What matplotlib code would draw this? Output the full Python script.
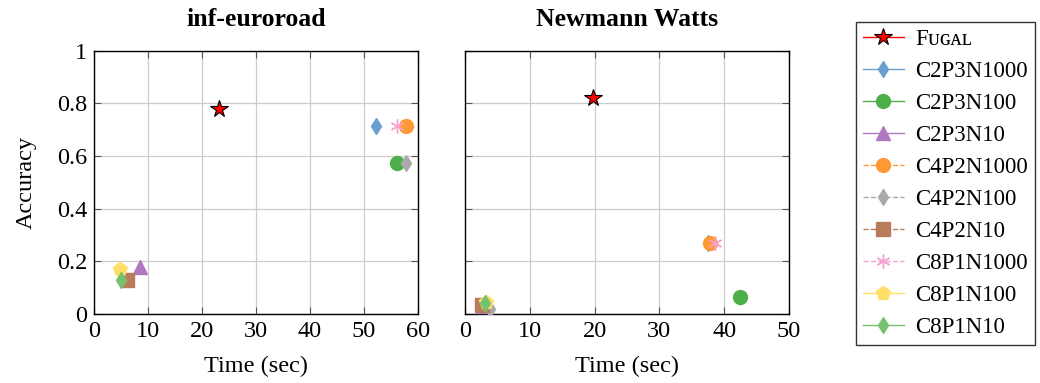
import matplotlib
matplotlib.use("Agg")
import matplotlib.pyplot as plt

plt.rcParams['font.family'] = ['Liberation Serif', 'DejaVu Serif']

# metodos y estilos
metodos = ["Fugal", "C2P3N1000", "C2P3N100", "C2P3N10", "C4P2N1000",
           "C4P2N100", "C4P2N10", "C8P1N1000", "C8P1N100", "C8P1N10"]
etiquetas = ["F\u1d1c\u0262\u1d00\u029f", "C2P3N1000", "C2P3N100", "C2P3N10", "C4P2N1000",
             "C4P2N100", "C4P2N10", "C8P1N1000", "C8P1N100", "C8P1N10"]
colores = ["#ff0000", "#6a9fd0", "#4daf4a", "#b07ac0", "#ff9933",
           "#aaaaaa", "#b87c5a", "#f7a1cf", "#ffe066", "#77c06f"]
marcadores = ["*", "d", "o", "^", "o", "d", "s", (6, 2, 0), "p", "d"]
tamanos = [13, 8.5, 10, 9.5, 10, 8.5, 10, 10, 10, 8.5]
lineas = ["-", "-", "-", "-", "--", "--", "--", "--", "-", "-"]

# inf-euroroad
t_euro = [23.2, 52.3, 56.2, 8.6, 57.8, 57.8, 6.1, 56.2, 4.8, 5.0]
acc_euro = [0.78, 0.712, 0.572, 0.18, 0.712, 0.572, 0.128, 0.712, 0.172, 0.128]

# Newmann Watts
t_nw = [19.7, 37.5, 42.4, 3.0, 37.8, 3.9, 2.6, 38.6, 3.3, 3.1]
acc_nw = [0.82, 0.268, 0.066, 0.03, 0.268, 0.02, 0.034, 0.268, 0.045, 0.042]

fig = plt.figure(figsize=(10.4, 3.83), dpi=100)
ax1 = fig.add_axes([0.0904, 0.180, 0.3115, 0.688])
ax2 = fig.add_axes([0.4471, 0.180, 0.3115, 0.688])


def graficar(ax, tiempos, accs, titulo, xmax, xticks):
    for i in range(len(metodos)):
        if i == 0:
            ax.plot(tiempos[i], accs[i], linestyle=lineas[i], color=colores[i],
                    marker=marcadores[i], markersize=tamanos[i], markeredgecolor="black",
                    markeredgewidth=0.8, linewidth=1, label=etiquetas[i], zorder=5)
        else:
            ax.plot(tiempos[i], accs[i], linestyle=lineas[i], color=colores[i],
                    marker=marcadores[i], markersize=tamanos[i], markeredgecolor=colores[i],
                    linewidth=1, label=etiquetas[i], zorder=3)
    ax.set_xlim(0, xmax)
    ax.set_ylim(0, 1)
    ax.set_xticks(xticks)
    ax.set_yticks([0, 0.2, 0.4, 0.6, 0.8, 1])
    ax.grid(True, color="#cccccc", linewidth=0.9)
    ax.set_axisbelow(True)
    ax.tick_params(direction="in", length=5, width=0.8, color="#555555",
                   top=True, right=True, labelsize=17.5, pad=5)
    ax.set_title(titulo, fontsize=18.5, fontweight="bold", pad=18)
    ax.set_xlabel("Time (sec)", fontsize=17.5, labelpad=10)
    for s in ax.spines.values():
        s.set_linewidth(1.0)


graficar(ax1, t_euro, acc_euro, "inf-euroroad", 60, [0, 10, 20, 30, 40, 50, 60])
graficar(ax2, t_nw, acc_nw, "Newmann Watts", 50, [0, 10, 20, 30, 40, 50])
ax1.set_yticklabels(["0", "0.2", "0.4", "0.6", "0.8", "1"])
ax1.set_ylabel("Accuracy", fontsize=17.5, labelpad=14)
ax2.set_yticklabels([])

h, l = ax1.get_legend_handles_labels()
leg = fig.legend(h, l, loc="upper left", bbox_to_anchor=(0.823, 0.943),
                 fontsize=16.5, frameon=True, fancybox=False, edgecolor="black",
                 handlelength=1.8, handletextpad=0.5, labelspacing=0.48,
                 borderpad=0.3, borderaxespad=0)
leg.get_frame().set_linewidth(1.0)

plt.savefig("out.png", dpi=100)
